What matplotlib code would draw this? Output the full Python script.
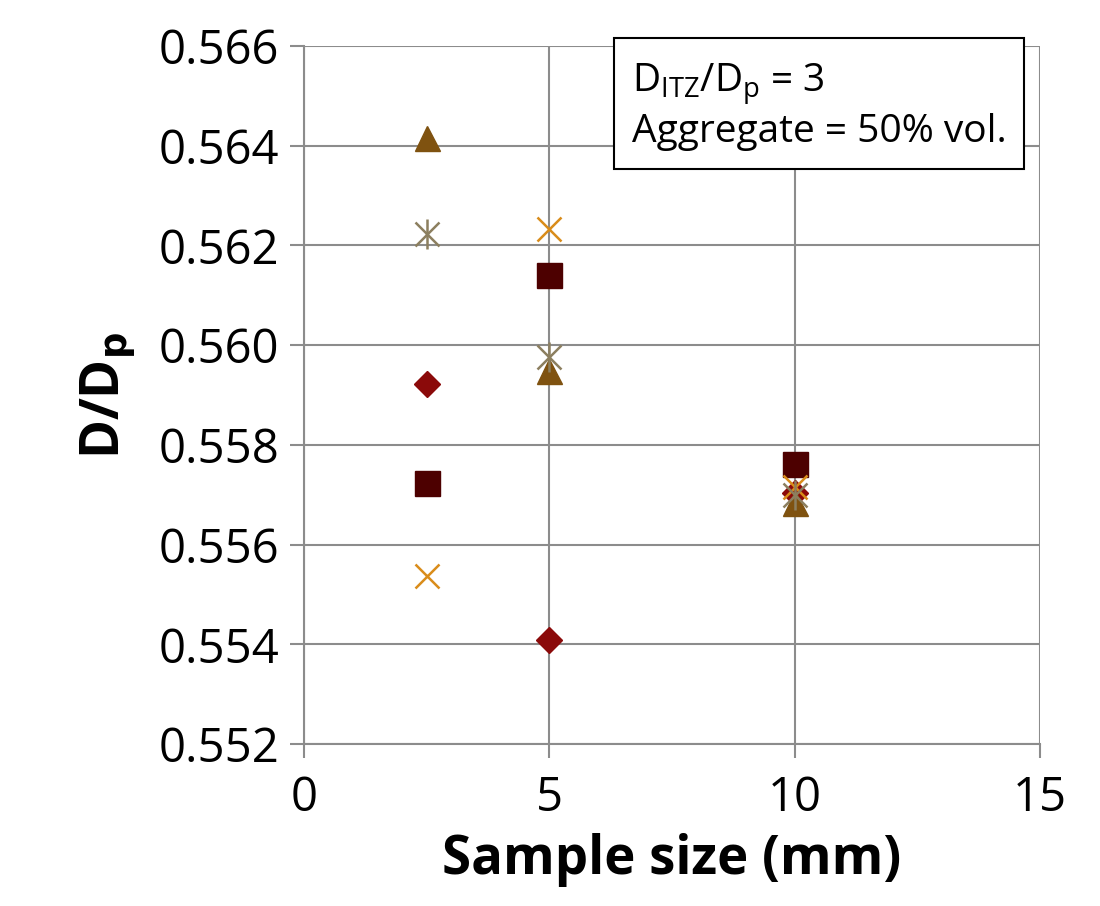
import matplotlib.pyplot as plt

sizes = [2.5, 5, 10]
diamond_vals = [0.55922, 0.55409, 0.55703]
square_vals = [0.55723, 0.56141, 0.55761]
triangle_vals = [0.56416, 0.55949, 0.55683]
cross_vals = [0.55537, 0.56233, 0.55715]
star_vals = [0.56222, 0.55976, 0.55700]

plt.rcParams['font.family'] = ['Open Sans', 'DejaVu Sans']

fig = plt.figure(figsize=(11, 9.06), dpi=100)
ax = fig.add_axes([0.2764, 0.1788, 0.6691, 0.7704])

ax.plot(sizes, diamond_vals, 'D', color='#8B0A0A', markersize=13, linestyle='none', zorder=3)
ax.plot(sizes, square_vals, 's', color='#4D0000', markersize=18, linestyle='none', zorder=3)
ax.plot(sizes, triangle_vals, '^', color='#7F5210', markersize=18, linestyle='none', zorder=3)
ax.plot(sizes, cross_vals, 'x', color='#D98C1A', markersize=17, markeredgewidth=1.8, linestyle='none', zorder=3)
ax.plot(sizes, star_vals, 'x', color='#8C7F5F', markersize=17, markeredgewidth=1.8, linestyle='none', zorder=3)
ax.plot(sizes, star_vals, '|', color='#8C7F5F', markersize=22, markeredgewidth=1.8, linestyle='none', zorder=3)

ax.set_xlim(0, 15)
ax.set_ylim(0.552, 0.566)
ax.set_xticks([0, 5, 10, 15])
ax.set_yticks([0.552, 0.554, 0.556, 0.558, 0.560, 0.562, 0.564, 0.566])
ax.set_yticklabels([f'{v:.3f}' for v in ax.get_yticks()])
ax.grid(True, color='#8C8C8C', linewidth=1.5)
ax.set_axisbelow(True)
for side in ['top', 'right']:
    ax.spines[side].set_visible(False)
for side in ['left', 'bottom']:
    ax.spines[side].set_color('#8C8C8C')
    ax.spines[side].set_linewidth(1.5)
ax.tick_params(axis='both', labelsize=34, color='#8C8C8C', width=1.5, length=10, pad=8)
ax.tick_params(axis='x', pad=12)

ax.set_xlabel('Sample size (mm)', fontsize=38, fontweight='bold', labelpad=8)
ax.set_ylabel(r'D/D$_\mathbf{p}$', fontsize=38, fontweight='bold', labelpad=14)

ax.text(0.445, 0.978, 'D$_\\mathregular{ITZ}$/D$_\\mathregular{p}$ = 3\nAggregate = 50% vol.',
        transform=ax.transAxes, fontsize=28, va='top', ha='left', linespacing=1.2,
        bbox=dict(boxstyle='square,pad=0.45', facecolor='white', edgecolor='black', linewidth=1.5),
        zorder=5)

fig.savefig('out.png', dpi=100)
